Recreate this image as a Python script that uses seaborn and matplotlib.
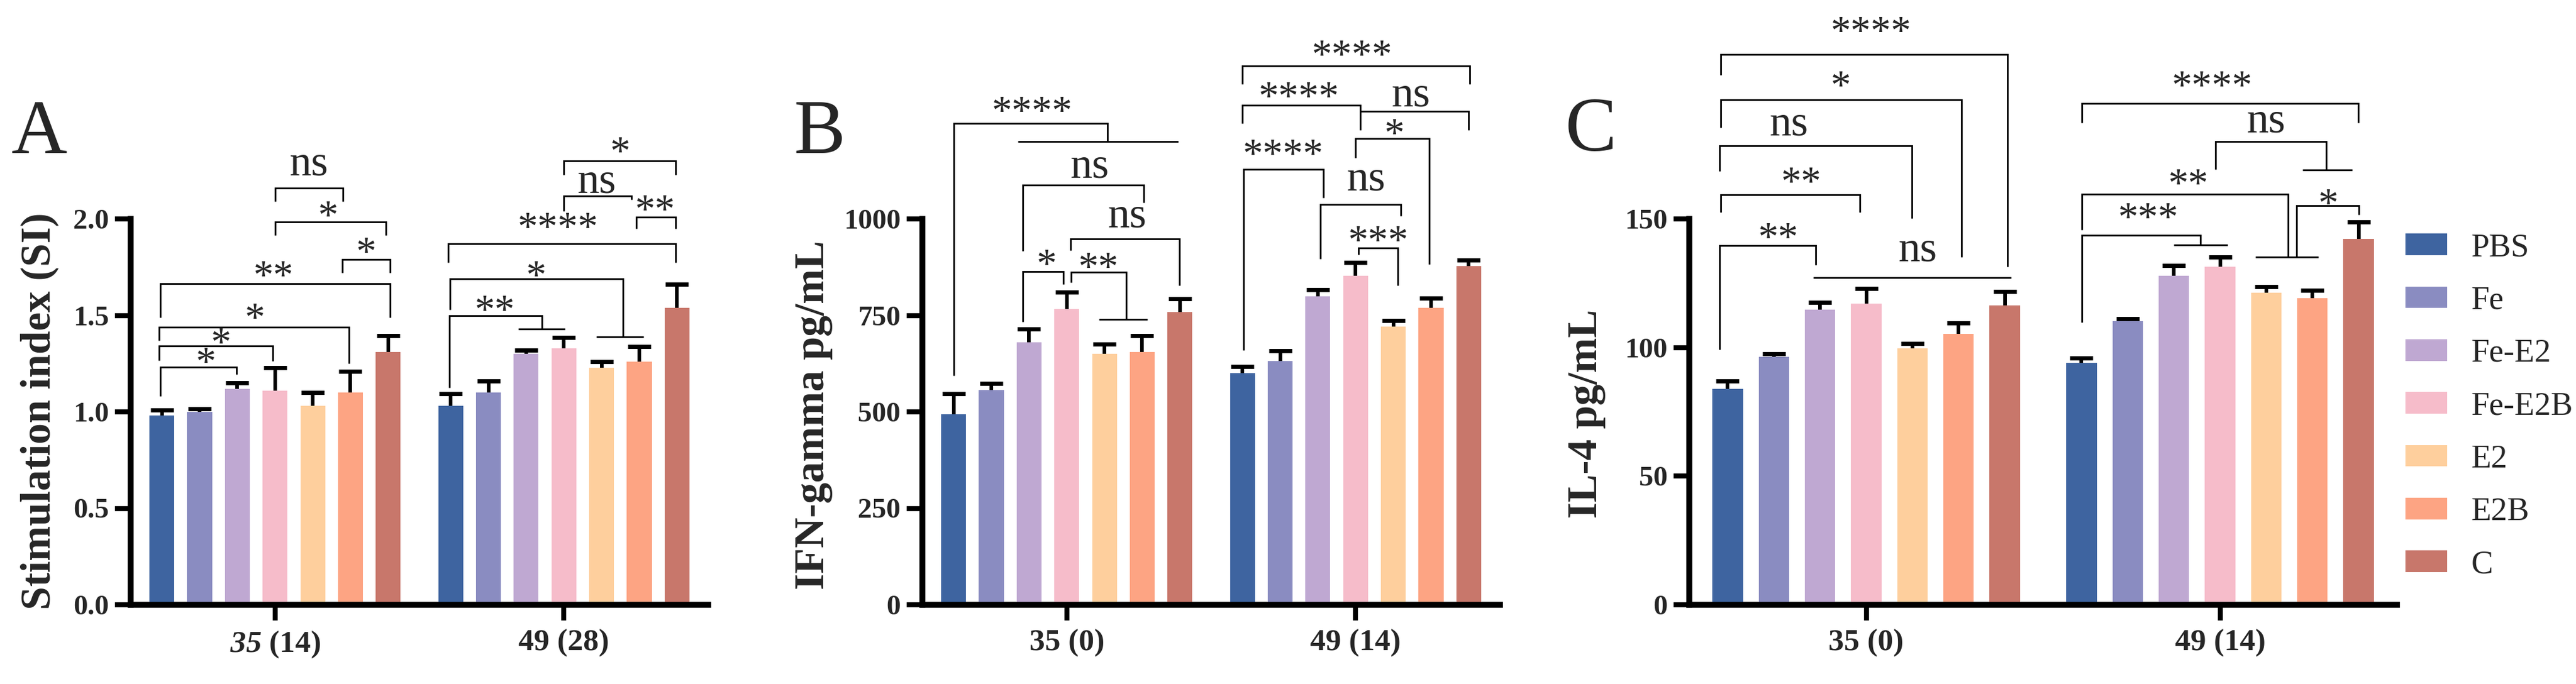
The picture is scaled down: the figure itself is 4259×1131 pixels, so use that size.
import numpy as np
import pandas as pd
import matplotlib.pyplot as plt
import seaborn as sns

# groups and colours
treatments = ["PBS", "Fe", "Fe-E2", "Fe-E2B", "E2", "E2B", "C"]
palette = ["#3E64A0", "#8A8CC1", "#BFA8D2", "#F6BCCA", "#FECF9D", "#FDA483", "#C8776B"]

# panel A: stimulation index
si_days = [r"$35$ (14)", "49 (28)"]
si_35 = [0.98, 1.00, 1.12, 1.11, 1.03, 1.10, 1.31]
si_35_err = [0.03, 0.015, 0.03, 0.12, 0.07, 0.11, 0.085]
si_49 = [1.03, 1.10, 1.30, 1.33, 1.23, 1.26, 1.54]
si_49_err = [0.065, 0.06, 0.02, 0.055, 0.03, 0.08, 0.12]
si_ticks = [0, 0.5, 1.0, 1.5, 2.0]
si_ticklabels = ["0.0", "0.5", "1.0", "1.5", "2.0"]

# panel B: IFN-gamma
ifn_days = ["35 (0)", "49 (14)"]
ifn_35 = [494, 556, 680, 766, 650, 655, 758]
ifn_35_err = [53, 17, 35, 45, 25, 42, 35]
ifn_49 = [601, 631, 799, 853, 721, 769, 877]
ifn_49_err = [16, 27, 18, 34, 15, 26, 16]
ifn_ticks = [0, 250, 500, 750, 1000]

# panel C: IL-4
il4_days = ["35 (0)", "49 (14)"]
il4_35 = [83.9, 96.3, 114.7, 117.0, 99.8, 105.4, 116.3]
il4_35_err = [3.2, 1.3, 2.8, 6.0, 1.7, 4.1, 5.5]
il4_49 = [94.1, 110.2, 128.0, 131.4, 121.2, 119.3, 142.2]
il4_49_err = [1.8, 1.1, 3.8, 3.7, 2.5, 2.9, 6.6]
il4_ticks = [0, 50, 100, 150]

# significance brackets: group, left bar, right bar, top, left leg end, right leg end, label, label bar pos, label centre
si_brackets = [
    (0, -0.05, 1.97, 1.231, 1.081, 1.194, "*", 1.16, 1.29),
    (0, -0.08, 2.94, 1.341, 1.266, 1.263, "*", 1.56, 1.39),
    (0, -0.08, 4.96, 1.44, 1.369, 1.25, "*", 2.46, 1.52),
    (0, -0.05, 6.05, 1.666, 1.49, 1.49, "**", 2.95, 1.74),
    (0, 4.78, 6.05, 1.79, 1.72, 1.72, "*", 5.41, 1.86),
    (0, 3.0, 5.94, 1.984, 1.915, 1.915, "*", 4.41, 2.05),
    (0, 3.0, 4.8, 2.16, 2.09, 2.09, "ns", 3.9, 2.28),
    (1, -0.03, 2.42, 1.50, 1.125, 1.428, "**", 1.17, 1.56),
    (1, -0.02, 4.56, 1.69, 1.53, 1.39, "*", 2.26, 1.74),
    (1, -0.06, 5.97, 1.87, 1.775, 1.775, "****", 2.84, 1.99),
    (1, 4.92, 5.97, 2.01, 1.95, 1.95, "**", 5.42, 2.08),
    (1, 3.0, 4.8, 2.12, 2.04, 2.10, "ns", 3.87, 2.19),
    (1, 3.0, 5.97, 2.30, 2.23, 2.23, "*", 4.5, 2.38),
]
si_lines = [(1, 1.8, 3.03, 1.428), (1, 3.87, 5.12, 1.39)]

ifn_brackets = [
    (0, 0.0, 4.08, 1247, 594, 1202, "****", 2.08, 1296),
    (0, 1.83, 5.04, 1088, 917, 1042, "ns", 3.6, 1133),
    (0, 3.1, 5.99, 948, 918, 827, "ns", 4.6, 1005),
    (0, 1.83, 2.91, 864, 734, 830, "*", 2.47, 899),
    (0, 3.11, 4.58, 862, 835, 741, "**", 3.84, 892),
    (1, -0.01, 6.02, 1397, 1350, 1350, "****", 2.9, 1441),
    (1, 0.0, 3.13, 1294, 1247, 1231, "****", 1.49, 1333),
    (1, 3.13, 6.0, 1279, None, 1231, "ns", 4.46, 1319),
    (1, 3.0, 4.96, 1208, 1159, 883, "*", 4.03, 1238),
    (1, 0.03, 2.15, 1128, 660, 1055, "****", 1.08, 1184),
    (1, 2.07, 4.2, 1037, 896, 1008, "ns", 3.27, 1101),
    (1, 3.07, 4.12, 925, 908, 828, "***", 3.61, 961),
]
ifn_lines = [(0, 1.7, 5.95, 1200), (0, 3.85, 5.14, 740)]

il4_brackets = [
    (0, -0.15, 6.06, 213.9, 205.9, 131.4, "****", 3.1, 225.4),
    (0, -0.15, 5.06, 196.3, 185.6, 135.3, "*", 2.45, 204.2),
    (0, -0.17, 3.99, 178.5, 168.6, 150.3, "ns", 1.32, 186.4),
    (0, -0.15, 2.86, 159.3, 152.5, 152.5, "**", 1.6, 166.9),
    (0, -0.17, 1.91, 139.7, 99.2, 132.2, "**", 1.1, 145.3),
    (1, 0.01, 5.99, 194.9, 187.3, 187.3, "****", 2.83, 204.2),
    (1, 2.9, 5.3, 180.0, 169.2, 169.0, "ns", 3.99, 187.6),
    (1, 0.01, 4.47, 159.7, 145.8, 135.3, "**", 2.31, 166.1),
    (1, 4.65, 6.01, 155.1, 135.3, 151.7, "*", 5.34, 158.5),
    (1, 0.01, 2.58, 143.7, 109.7, 139.8, "***", 1.44, 153.0),
]
il4_lines = [(0, 1.85, 6.13, 127.1), (1, 4.79, 5.86, 169.0), (1, 3.77, 5.13, 135.3), (1, 2.0, 3.17, 139.8)]
il4_texts = [(0, 4.11, 137.6, "ns")]

sns.set_style("ticks")
plt.rcParams["font.family"] = ["Liberation Serif", "DejaVu Serif"]
plt.rcParams["mathtext.fontset"] = "custom"
# digits in math mode use the "rm" slot: make it bold italic for the "35" label
plt.rcParams["mathtext.rm"] = "Liberation Serif:italic:bold"
plt.rcParams["mathtext.it"] = "Liberation Serif:italic:bold"

W, H = 4259, 1131
BAR_W = 0.914
SLOT = BAR_W / 7

fig = plt.figure(figsize=(W / 100, H / 100), dpi=100)


def px_box(x0, x1, y0=362, y1=1000):
    return [x0 / W, 1 - y1 / H, (x1 - x0) / W, (y1 - y0) / H]


def xpos(g, i):
    return g + (i - 3) * SLOT


def put_label(ax, x, y, label):
    star = "*" in label
    fs = 48 if star else 52
    off = -(0.46 if star else 0.23) * fs
    ax.annotate(label, (x, y), xytext=(0, off), textcoords="offset points",
                ha="center", va="baseline", fontsize=fs, annotation_clip=False)


def draw_brackets(ax, brackets, lines, texts=()):
    kw = dict(color="black", lw=2, clip_on=False, solid_joinstyle="miter",
              solid_capstyle="butt", zorder=4)
    for g, i1, i2, y, yl, yr, label, li, ly in brackets:
        x1, x2 = xpos(g, i1), xpos(g, i2)
        xs, ys = [], []
        if yl is not None:
            xs.append(x1); ys.append(yl)
        xs += [x1, x2]; ys += [y, y]
        if yr is not None:
            xs.append(x2); ys.append(yr)
        ax.plot(xs, ys, **kw)
        put_label(ax, xpos(g, li), ly, label)
    for g, i1, i2, y in lines:
        ax.plot([xpos(g, i1), xpos(g, i2)], [y, y], **kw)
    for g, li, ly, label in texts:
        put_label(ax, xpos(g, li), ly, label)


def draw_panel(ax, days, v35, e35, v49, e49, ymax, ticks, ticklabels, legend=False):
    df = pd.DataFrame({
        "day": [days[0]] * 7 + [days[1]] * 7,
        "group": treatments * 2,
        "value": list(v35) + list(v49),
    })
    sns.barplot(data=df, x="day", y="value", hue="group", order=days,
                hue_order=treatments, palette=palette, width=BAR_W, gap=0.34,
                errorbar=None, linewidth=0, saturation=1, legend=legend, ax=ax)
    errs = [e35, e49]
    xs, ys, es = [], [], []
    for j, cont in enumerate(list(ax.containers)):
        for g, bar in enumerate(cont):
            xs.append(bar.get_x() + bar.get_width() / 2)
            ys.append(bar.get_height())
            es.append(errs[g][j])
    ys = np.array(ys)
    es = np.array(es)
    # upper error only: drop the cap that sits on the bar top
    _, caps, _ = ax.errorbar(xs, ys, yerr=[np.zeros_like(es), es], fmt="none",
                             ecolor="black", elinewidth=4.3, capsize=13.5,
                             capthick=5, zorder=3)
    for cap in caps:
        if np.allclose(cap.get_ydata(), ys):
            cap.remove()

    ax.set_xlim(-0.5, 1.5)
    ax.set_ylim(0, ymax)
    ax.set_yticks(ticks, ticklabels)
    ax.set_xticks([0, 1], days)
    ax.set_xlabel("")
    ax.set_ylabel("")
    sns.despine(ax=ax)
    for side in ["left", "bottom"]:
        ax.spines[side].set_linewidth(7)
        ax.spines[side].set_color("black")
    ax.tick_params(axis="both", length=19, width=6, color="black", direction="out")
    ax.tick_params(axis="y", labelsize=34, pad=7)
    ax.tick_params(axis="x", labelsize=37, pad=10)
    for lbl in ax.get_xticklabels() + ax.get_yticklabels():
        lbl.set_fontweight("bold")


ax_a = fig.add_axes(px_box(216, 1171))
draw_panel(ax_a, si_days, si_35, si_35_err, si_49, si_49_err, 2.0, si_ticks, si_ticklabels)
draw_brackets(ax_a, si_brackets, si_lines)

ax_b = fig.add_axes(px_box(1525, 2480))
draw_panel(ax_b, ifn_days, ifn_35, ifn_35_err, ifn_49, ifn_49_err, 1000, ifn_ticks,
           [str(t) for t in ifn_ticks])
draw_brackets(ax_b, ifn_brackets, ifn_lines)

ax_c = fig.add_axes(px_box(2793, 3963))
draw_panel(ax_c, il4_days, il4_35, il4_35_err, il4_49, il4_49_err, 150, il4_ticks,
           [str(t) for t in il4_ticks], legend=True)
draw_brackets(ax_c, il4_brackets, il4_lines, il4_texts)

handles, labels = ax_c.get_legend_handles_labels()
ax_c.get_legend().remove()
fig.legend(handles, labels, loc="center left", bbox_to_anchor=(3977 / W, 1 - 672 / H),
           frameon=False, fontsize=39, handlelength=1.28, handleheight=0.63,
           handletextpad=0.72, labelspacing=0.68, borderpad=0, borderaxespad=0)

# y-axis titles and panel letters
fig.text(65 / W, 1 - 680 / H, "Stimulation index (SI)", rotation=90, ha="center",
         va="center", fontsize=50, fontweight="bold")
fig.text(1345 / W, 1 - 686 / H, "IFN-gamma pg/mL", rotation=90, ha="center",
         va="center", fontsize=50, fontweight="bold")
fig.text(2623 / W, 1 - 684 / H, "IL-4 pg/mL", rotation=90, ha="center",
         va="center", fontsize=50, fontweight="bold")
for letter, x, y in [("A", 65, 253), ("B", 1355, 253), ("C", 2630, 249)]:
    fig.text(x / W, 1 - y / H, letter, ha="center", va="baseline", fontsize=92)

fig.savefig("out.png", dpi=100)
